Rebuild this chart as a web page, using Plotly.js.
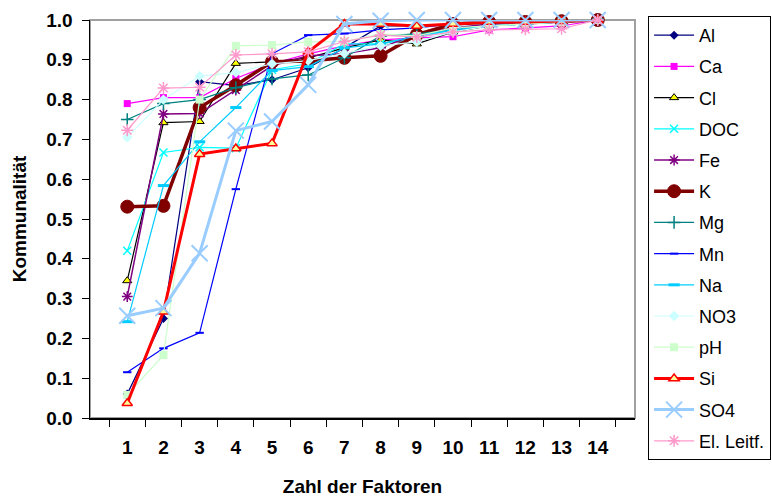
<!DOCTYPE html>
<html>
<head>
<meta charset="utf-8">
<script src="https://cdn.plot.ly/plotly-3.0.1.min.js"></script>
<style>html,body{margin:0;padding:0;background:#fff;}#chart{width:772px;height:503px;}</style>
</head>
<body>
<div id="chart"></div>
<script>
const categories = ['1','2','3','4','5','6','7','8','9','10','11','12','13','14'];
const seriesNames = ['Al','Ca','Cl','DOC','Fe','K','Mg','Mn','Na','NO3','pH','Si','SO4','El. Leitf.'];

const Al    = [0.06, 0.25, 0.845, 0.835, 0.85, 0.88, 0.93, 0.985, 0.985, 0.99, 0.995, 0.995, 0.995, 1.0];
const Ca    = [0.79, 0.805, 0.805, 0.853, 0.89, 0.915, 0.935, 0.95, 0.955, 0.958, 0.975, 0.98, 0.985, 1.0];
const Cl    = [0.345, 0.742, 0.745, 0.891, 0.895, 0.905, 0.93, 0.95, 0.94, 0.97, 0.985, 0.99, 0.995, 1.0];
const DOC   = [0.42, 0.667, 0.68, 0.678, 0.875, 0.89, 0.94, 0.94, 0.955, 0.975, 0.985, 0.99, 0.995, 1.0];
const Fe    = [0.305, 0.764, 0.765, 0.824, 0.885, 0.91, 0.915, 0.93, 0.965, 0.98, 0.99, 0.99, 0.995, 1.0];
const K     = [0.531, 0.533, 0.78, 0.836, 0.895, 0.897, 0.905, 0.91, 0.963, 0.99, 0.995, 0.995, 0.997, 1.0];
const Mg    = [0.75, 0.79, 0.80, 0.83, 0.852, 0.862, 0.905, 0.96, 0.965, 0.975, 0.985, 0.99, 0.995, 1.0];
const Mn    = [0.115, 0.175, 0.214, 0.575, 0.915, 0.962, 0.966, 0.975, 0.98, 0.99, 0.995, 0.995, 0.997, 1.0];
const Na    = [0.242, 0.584, 0.694, 0.78, 0.873, 0.883, 0.93, 0.94, 0.96, 0.975, 0.985, 0.99, 0.995, 1.0];
const NO3   = [0.705, 0.80, 0.859, 0.868, 0.89, 0.898, 0.916, 0.935, 0.945, 0.97, 0.985, 0.99, 0.995, 1.0];
const pH    = [0.058, 0.158, 0.80, 0.935, 0.937, 0.945, 0.946, 0.965, 0.96, 0.98, 0.985, 0.99, 0.995, 1.0];
const Si    = [0.037, 0.267, 0.663, 0.677, 0.69, 0.92, 0.99, 0.99, 0.985, 0.99, 0.995, 0.995, 0.997, 1.0];
const SO4   = [0.257, 0.276, 0.414, 0.722, 0.745, 0.837, 0.99, 0.998, 1.0, 1.0, 1.0, 1.0, 1.0, 1.0];
const Leitf = [0.723, 0.829, 0.831, 0.912, 0.915, 0.92, 0.946, 0.962, 0.957, 0.97, 0.975, 0.977, 0.978, 1.0];

const values = [Al, Ca, Cl, DOC, Fe, K, Mg, Mn, Na, NO3, pH, Si, SO4, Leitf];

const styles = [
  {color:'#000080', width:1.2, marker:{symbol:'diamond', size:7, color:'#000080'}},
  {color:'#FF00FF', width:1.2, marker:{symbol:'square', size:7, color:'#FF00FF'}},
  {color:'#000000', width:1.2, marker:{symbol:'triangle-up', size:8, color:'#FFFF00', line:{color:'#000000', width:1}}},
  {color:'#00FFFF', width:1.2, marker:{symbol:'x-thin-open', size:8, color:'#00FFFF', line:{color:'#00FFFF', width:1.5}}},
  {color:'#800080', width:1.5, marker:{symbol:'asterisk-open', size:9, color:'#800080', line:{color:'#800080', width:1.5}}},
  {color:'#800000', width:3.5, marker:{symbol:'circle', size:13, color:'#800000', line:{color:'#800000', width:1}}},
  {color:'#008080', width:1.2, marker:{symbol:'cross-thin-open', size:9, color:'#008080', line:{color:'#008080', width:1.5}}},
  {color:'#0000FF', width:1.2, marker:{symbol:'line-ew-open', size:6, color:'#0000FF', line:{color:'#0000FF', width:2}}},
  {color:'#00CCFF', width:1.2, marker:{symbol:'line-ew-open', size:8, color:'#00CCFF', line:{color:'#00CCFF', width:3}}},
  {color:'#CCFFFF', width:1.2, marker:{symbol:'diamond', size:8, color:'#CCFFFF'}},
  {color:'#CCFFCC', width:1.2, marker:{symbol:'square', size:8, color:'#CCFFCC'}},
  {color:'#FF0000', width:3, marker:{symbol:'triangle-up', size:9, color:'#FFFF99', line:{color:'#FF0000', width:1.5}}},
  {color:'#99CCFF', width:3, marker:{symbol:'x-thin-open', size:16, color:'#99CCFF', line:{color:'#99CCFF', width:2}}},
  {color:'#FF99CC', width:1.2, marker:{symbol:'asterisk-open', size:10, color:'#FF99CC', line:{color:'#FF99CC', width:1.5}}}
];

const traces = seriesNames.map((name, i) => ({
  type: 'scatter',
  mode: 'lines+markers',
  name: name,
  legendgroup: 'g' + i,
  x: categories,
  y: values[i],
  line: {color: styles[i].color, width: styles[i].width},
  marker: styles[i].marker,
  cliponaxis: false
}));

const font = 'Liberation Sans, Arial, sans-serif';

const layout = {
  width: 772, height: 503,
  margin: {l: 90, r: 137, t: 20, b: 85, autoexpand: false},
  paper_bgcolor: '#ffffff',
  plot_bgcolor: '#ffffff',
  showlegend: true,
  legend: {
    x: 1.024, xanchor: 'left', y: 1.01, yanchor: 'top',
    bgcolor: '#ffffff', bordercolor: '#000000', borderwidth: 1,
    font: {family: font, size: 18, color: '#000000'},
    tracegroupgap: 4.8, itemwidth: 40, traceorder: 'grouped',
    maxheight: 1
  },
  xaxis: {
    type: 'category',
    tickson: 'boundaries',
    ticks: 'outside', ticklen: 7, tickcolor: '#000000', tickwidth: 1,
    ticklabelstandoff: 12,
    showline: true, linecolor: '#000000', linewidth: 1.5,
    showgrid: false, zeroline: false,
    automargin: true,
    tickfont: {family: font, size: 19, color: '#000000', weight: 'bold'},
    title: {text: 'Zahl der Faktoren', font: {family: font, size: 19, color: '#000000', weight: 'bold'}, standoff: 22},
    fixedrange: true
  },
  yaxis: {
    range: [0, 1],
    dtick: 0.1, tick0: 0, tickformat: '.1f',
    ticks: 'outside', ticklen: 7, tickcolor: '#000000', tickwidth: 1,
    ticklabelstandoff: 5,
    showline: true, linecolor: '#000000', linewidth: 1.5,
    showgrid: false, zeroline: false,
    automargin: true,
    tickfont: {family: font, size: 19, color: '#000000', weight: 'bold'},
    title: {text: 'Kommunalität', font: {family: font, size: 19, color: '#000000', weight: 'bold'}, standoff: 14},
    fixedrange: true
  },
  shapes: [
    {type: 'rect', xref: 'paper', yref: 'paper', x0: 0, y0: 0, x1: 1, y1: 1,
     line: {color: '#A0A0A0', width: 2}, layer: 'below'}
  ]
};

Plotly.newPlot('chart', traces, layout, {staticPlot: true, displayModeBar: false});
</script>
</body>
</html>
